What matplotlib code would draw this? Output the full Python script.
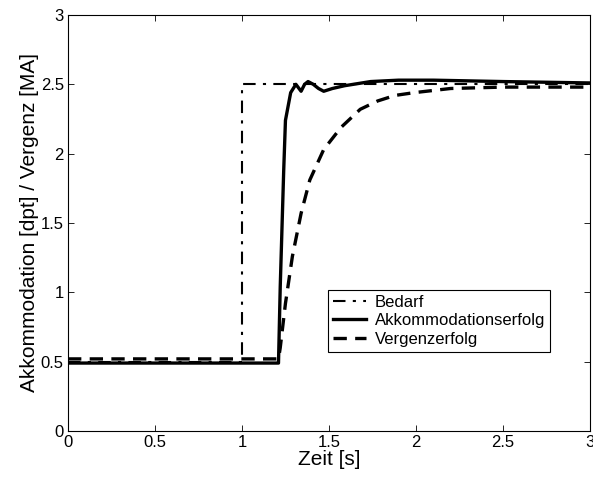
import numpy as np
import matplotlib.pyplot as plt

plt.rcParams['font.family'] = ['Liberation Sans', 'DejaVu Sans']

# Bedarf (demand step)
t_bedarf = [0, 1.0, 1.0, 3.0]
y_bedarf = [0.5, 0.5, 2.5, 2.5]

# Akkommodationserfolg
t_akk = [0, 1.21, 1.22, 1.24, 1.25, 1.28, 1.31, 1.34, 1.36, 1.38, 1.41, 1.44,
         1.47, 1.52, 1.59, 1.74, 1.9, 2.1, 2.5, 3.0]
y_akk = [0.49, 0.49, 1.04, 1.88, 2.24, 2.44, 2.50, 2.45, 2.50, 2.52, 2.50, 2.47,
         2.45, 2.47, 2.49, 2.52, 2.53, 2.53, 2.52, 2.51]

# Vergenzerfolg
t_verg = [0, 1.21, 1.22, 1.25, 1.29, 1.34, 1.39, 1.47, 1.57, 1.68, 1.78, 1.88,
          1.99, 2.2, 2.5, 3.0]
y_verg = [0.52, 0.52, 0.60, 0.92, 1.26, 1.57, 1.81, 2.03, 2.19, 2.32, 2.38, 2.42,
          2.44, 2.47, 2.48, 2.48]

fig = plt.figure(figsize=(5.93, 4.79), dpi=100)
ax = fig.add_axes([0.1147, 0.1002, 0.8800, 0.8685])

ax.plot(t_bedarf, y_bedarf, color='black', linestyle='-.', linewidth=1.5,
        dashes=(6, 3.5, 1.5, 3.5), label='Bedarf')
ax.plot(t_akk, y_akk, color='black', linestyle='-', linewidth=2.4,
        label='Akkommodationserfolg')
ax.plot(t_verg, y_verg, color='black', linestyle='--', linewidth=2.4,
        dashes=(4, 2.5), label='Vergenzerfolg')

ax.set_xlim(0, 3)
ax.set_ylim(0, 3)
ax.set_xticks([0, 0.5, 1, 1.5, 2, 2.5, 3])
ax.set_xticklabels(['0', '0.5', '1', '1.5', '2', '2.5', '3'])
ax.set_yticks([0, 0.5, 1, 1.5, 2, 2.5, 3])
ax.set_yticklabels(['0', '0.5', '1', '1.5', '2', '2.5', '3'])
ax.tick_params(direction='in', length=4, width=0.6, top=True, right=True,
               labelsize=12, pad=3)
for s in ax.spines.values():
    s.set_linewidth(0.8)

ax.set_xlabel('Zeit [s]', fontsize=15, labelpad=0)
ax.set_ylabel('Akkommodation [dpt] / Vergenz [MA]', fontsize=15, labelpad=1)

leg = ax.legend(loc='upper left', bbox_to_anchor=(0.498, 0.339), fontsize=12,
                frameon=True, fancybox=False, edgecolor='black', framealpha=1,
                handlelength=2.0, handletextpad=0.5, borderpad=0.3,
                labelspacing=0.2, borderaxespad=0)
leg.get_frame().set_linewidth(0.8)

fig.savefig('out.png', dpi=100)
